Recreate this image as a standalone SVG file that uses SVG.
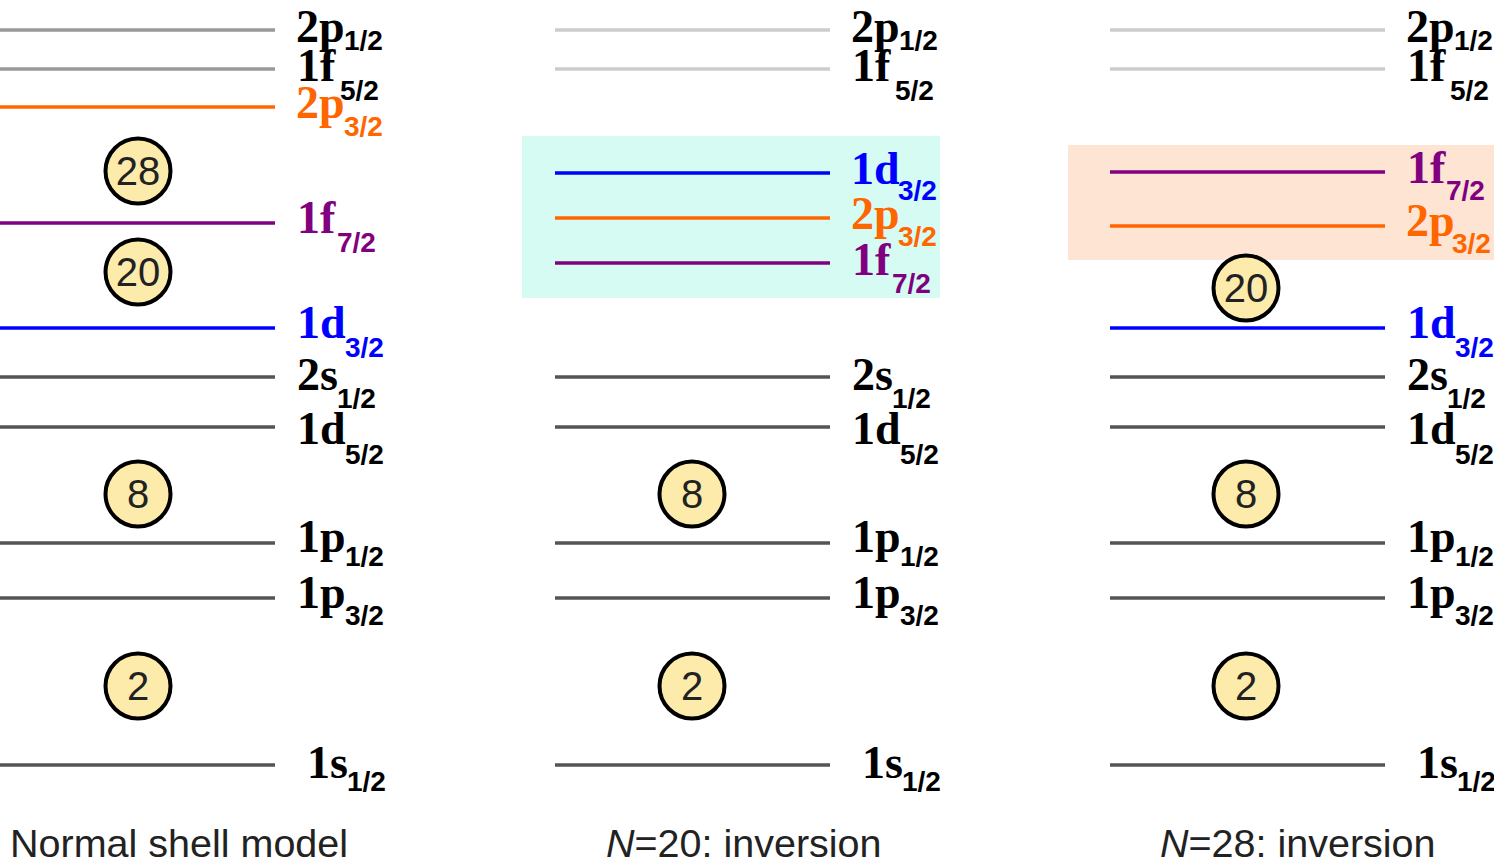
<svg xmlns="http://www.w3.org/2000/svg" width="1494" height="859" viewBox="0 0 1494 859">
<style>
.ln{stroke-width:3.5;fill:none}
.dk{stroke:#555}
.g1{stroke:#999}
.g2{stroke:#ccc}
.or{stroke:#ff6600}
.pu{stroke:#800080}
.bl{stroke:#0000ff}
.lab{font-family:"Liberation Serif",serif;font-weight:bold;font-size:46px;fill:#000}
.sub{font-family:"Liberation Sans",sans-serif;font-weight:bold;font-size:28px}
.tor{fill:#ff6600}
.tpu{fill:#800080}
.tbl{fill:#0000ff}
.mag circle{fill:#fcebaa;stroke:#000;stroke-width:4}
.mag text{font-family:"Liberation Sans",sans-serif;font-size:40px;fill:#222;text-anchor:middle}
.cap{font-family:"Liberation Sans",sans-serif;font-size:39.5px;fill:#222}
</style>
<rect x="522" y="136" width="418" height="162" fill="#d5fbf3"/>
<rect x="1068" y="145" width="426" height="115" fill="#fde4d3"/>
<g id="levels">
<line class="ln g1" x1="0" y1="30" x2="275" y2="30"/>
<line class="ln g1" x1="0" y1="69" x2="275" y2="69"/>
<line class="ln or" x1="0" y1="107" x2="275" y2="107"/>
<line class="ln pu" x1="0" y1="223" x2="275" y2="223"/>
<line class="ln bl" x1="0" y1="328" x2="275" y2="328"/>
<line class="ln dk" x1="0" y1="377" x2="275" y2="377"/>
<line class="ln dk" x1="0" y1="427" x2="275" y2="427"/>
<line class="ln dk" x1="0" y1="543" x2="275" y2="543"/>
<line class="ln dk" x1="0" y1="598" x2="275" y2="598"/>
<line class="ln dk" x1="0" y1="765" x2="275" y2="765"/>

<line class="ln g2" x1="555" y1="30" x2="830" y2="30"/>
<line class="ln g2" x1="555" y1="69" x2="830" y2="69"/>
<line class="ln bl" x1="555" y1="173" x2="830" y2="173"/>
<line class="ln or" x1="555" y1="218" x2="830" y2="218"/>
<line class="ln pu" x1="555" y1="263" x2="830" y2="263"/>
<line class="ln dk" x1="555" y1="377" x2="830" y2="377"/>
<line class="ln dk" x1="555" y1="427" x2="830" y2="427"/>
<line class="ln dk" x1="555" y1="543" x2="830" y2="543"/>
<line class="ln dk" x1="555" y1="598" x2="830" y2="598"/>
<line class="ln dk" x1="555" y1="765" x2="830" y2="765"/>

<line class="ln g2" x1="1110" y1="30" x2="1385" y2="30"/>
<line class="ln g2" x1="1110" y1="69" x2="1385" y2="69"/>
<line class="ln pu" x1="1110" y1="172" x2="1385" y2="172"/>
<line class="ln or" x1="1110" y1="226" x2="1385" y2="226"/>
<line class="ln bl" x1="1110" y1="328" x2="1385" y2="328"/>
<line class="ln dk" x1="1110" y1="377" x2="1385" y2="377"/>
<line class="ln dk" x1="1110" y1="427" x2="1385" y2="427"/>
<line class="ln dk" x1="1110" y1="543" x2="1385" y2="543"/>
<line class="ln dk" x1="1110" y1="598" x2="1385" y2="598"/>
<line class="ln dk" x1="1110" y1="765" x2="1385" y2="765"/>
</g>
<g id="labels-normal">
<text class="lab" x="296" y="42">2p<tspan class="sub" x="344" y="50">1/2</tspan></text>
<text class="lab" x="297" y="81">1f<tspan class="sub" x="340" y="100">5/2</tspan></text>
<text class="lab tor" x="296" y="118">2p<tspan class="sub" x="344" y="136">3/2</tspan></text>
<text class="lab tpu" x="297" y="233">1f<tspan class="sub" x="337" y="252">7/2</tspan></text>
<text class="lab tbl" x="297" y="338">1d<tspan class="sub" x="345" y="357">3/2</tspan></text>
<text class="lab" x="297" y="390">2s<tspan class="sub" x="337" y="408">1/2</tspan></text>
<text class="lab" x="297" y="444">1d<tspan class="sub" x="345" y="464">5/2</tspan></text>
<text class="lab" x="297" y="552">1p<tspan class="sub" x="345" y="566">1/2</tspan></text>
<text class="lab" x="297" y="608">1p<tspan class="sub" x="345" y="625">3/2</tspan></text>
<text class="lab" x="307" y="778">1s<tspan class="sub" x="347" y="791">1/2</tspan></text>
</g>
<g id="labels-n20">
<text class="lab" x="851" y="42">2p<tspan class="sub" x="899" y="50">1/2</tspan></text>
<text class="lab" x="852" y="81">1f<tspan class="sub" x="895" y="100">5/2</tspan></text>
<text class="lab tbl" x="851" y="184">1d<tspan class="sub" x="898" y="200">3/2</tspan></text>
<text class="lab tor" x="851" y="229">2p<tspan class="sub" x="898" y="246">3/2</tspan></text>
<text class="lab tpu" x="852" y="275">1f<tspan class="sub" x="892" y="293">7/2</tspan></text>
<text class="lab" x="852" y="390">2s<tspan class="sub" x="892" y="408">1/2</tspan></text>
<text class="lab" x="852" y="444">1d<tspan class="sub" x="900" y="464">5/2</tspan></text>
<text class="lab" x="852" y="552">1p<tspan class="sub" x="900" y="566">1/2</tspan></text>
<text class="lab" x="852" y="608">1p<tspan class="sub" x="900" y="625">3/2</tspan></text>
<text class="lab" x="862" y="778">1s<tspan class="sub" x="902" y="791">1/2</tspan></text>
</g>
<g id="labels-n28">
<text class="lab" x="1406" y="42">2p<tspan class="sub" x="1454" y="50">1/2</tspan></text>
<text class="lab" x="1407" y="81">1f<tspan class="sub" x="1450" y="100">5/2</tspan></text>
<text class="lab tpu" x="1407" y="183">1f<tspan class="sub" x="1446" y="200">7/2</tspan></text>
<text class="lab tor" x="1406" y="236">2p<tspan class="sub" x="1452" y="253">3/2</tspan></text>
<text class="lab tbl" x="1407" y="338">1d<tspan class="sub" x="1455" y="357">3/2</tspan></text>
<text class="lab" x="1407" y="390">2s<tspan class="sub" x="1447" y="408">1/2</tspan></text>
<text class="lab" x="1407" y="444">1d<tspan class="sub" x="1455" y="464">5/2</tspan></text>
<text class="lab" x="1407" y="552">1p<tspan class="sub" x="1455" y="566">1/2</tspan></text>
<text class="lab" x="1407" y="608">1p<tspan class="sub" x="1455" y="625">3/2</tspan></text>
<text class="lab" x="1417" y="778">1s<tspan class="sub" x="1457" y="791">1/2</tspan></text>
</g>
<g id="magic-28-a" class="mag"><circle cx="138" cy="171" r="32.5"/><text x="138" y="185">28</text></g>
<g id="magic-20-a" class="mag"><circle cx="138" cy="272" r="32.5"/><text x="138" y="286">20</text></g>
<g id="magic-8-a" class="mag"><circle cx="138" cy="494" r="32.5"/><text x="138" y="508">8</text></g>
<g id="magic-2-a" class="mag"><circle cx="138" cy="686" r="32.5"/><text x="138" y="700">2</text></g>
<g id="magic-8-b" class="mag"><circle cx="692" cy="494" r="32.5"/><text x="692" y="508">8</text></g>
<g id="magic-2-b" class="mag"><circle cx="692" cy="686" r="32.5"/><text x="692" y="700">2</text></g>
<g id="magic-20-c" class="mag"><circle cx="1246" cy="288" r="32.5"/><text x="1246" y="302">20</text></g>
<g id="magic-8-c" class="mag"><circle cx="1246" cy="494" r="32.5"/><text x="1246" y="508">8</text></g>
<g id="magic-2-c" class="mag"><circle cx="1246" cy="686" r="32.5"/><text x="1246" y="700">2</text></g>
<g id="captions">
<text class="cap" x="10" y="857">Normal shell model</text>
<text class="cap" x="606" y="857"><tspan font-style="italic">N</tspan>=20: inversion</text>
<text class="cap" x="1160" y="857"><tspan font-style="italic">N</tspan>=28: inversion</text>
</g>
</svg>
